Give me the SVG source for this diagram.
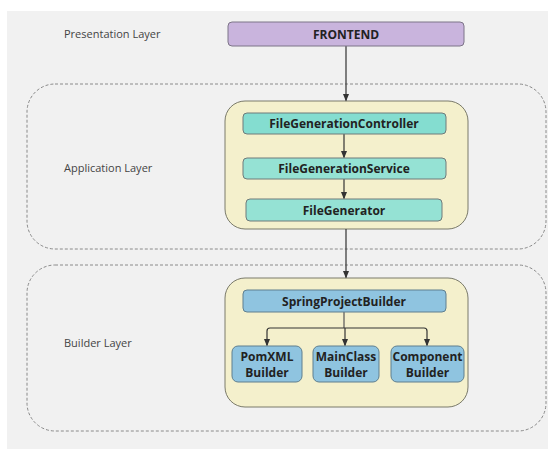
<svg xmlns="http://www.w3.org/2000/svg" width="548" height="450" viewBox="0 0 548 450">
  <defs>
    <marker id="arrow" viewBox="0 0 8 8" refX="7" refY="4" markerWidth="8" markerHeight="8" markerUnits="userSpaceOnUse" orient="auto">
      <path d="M0,0.8 L8,4 L0,7.2 z" fill="#333333"/>
    </marker>
    <style>
      .layer { fill: none; stroke: #8a8a8a; stroke-width: 1; stroke-dasharray: 3 2; }
      .layer-label { font-family: "Open Sans", "Noto Sans", sans-serif; font-size: 11px; fill: #444444; }
      .group { fill: #f4f0cc; stroke: #7a7a6a; stroke-width: 1; }
      .node { stroke: #6f7a7a; stroke-width: 1; }
      .frontend { fill: #c9b4dd; stroke: #7d7588; }
      .app { fill: #84ddd0; }
      .app2 { fill: #95e2d4; }
      .builder { fill: #8fc4e0; stroke: #5f7f8f; }
      .label { font-family: "Open Sans", "Noto Sans", sans-serif; font-weight: 700; font-size: 12px; fill: #222222; text-anchor: middle; }
      .label-sm { font-family: "Open Sans", "Noto Sans", sans-serif; font-weight: 700; font-size: 12px; fill: #222222; text-anchor: middle; }
      .edge { fill: none; stroke: #333333; stroke-width: 1.2; marker-end: url(#arrow); }
      .edge-plain { fill: none; stroke: #555555; stroke-width: 1.2; }
    </style>
  </defs>

  <!-- canvas -->
  <rect x="7" y="11" width="541" height="438" fill="#f1f1f1"/>

  <!-- layer bands -->
  <g id="layers">
    <rect class="layer" x="27" y="84" width="519" height="165" rx="28" ry="28"/>
    <rect class="layer" x="27" y="265" width="519" height="166" rx="28" ry="28"/>
    <text class="layer-label" x="64" y="38">Presentation Layer</text>
    <text class="layer-label" x="64" y="172">Application Layer</text>
    <text class="layer-label" x="64" y="347">Builder Layer</text>
  </g>

  <!-- group containers -->
  <g id="application-group">
    <rect class="group" x="225" y="101" width="243" height="128" rx="20" ry="20"/>
  </g>
  <g id="builder-group">
    <rect class="group" x="225" y="278" width="243" height="129" rx="20" ry="20"/>
  </g>

  <!-- connectors -->
  <g id="connectors">
    <line class="edge" x1="346" y1="46" x2="346" y2="100.5"/>
    <line class="edge" x1="344" y1="134" x2="344" y2="157.5"/>
    <line class="edge" x1="344" y1="179" x2="344" y2="198.5"/>
    <line class="edge" x1="346" y1="229" x2="346" y2="277.5"/>
    <path class="edge-plain" d="M344,312 V328"/>
    <path class="edge" d="M344,328 H270 Q267,328 267,331 V345.5"/>
    <line class="edge" x1="345" y1="328" x2="345" y2="345.5"/>
    <path class="edge" d="M344,328 H424 Q427,328 427,331 V345.5"/>
  </g>

  <!-- nodes -->
  <g id="frontend">
    <rect class="node frontend" x="228" y="22" width="236" height="24" rx="4" ry="4"/>
    <text class="label" x="346" y="38.5">FRONTEND</text>
  </g>
  <g id="file-generation-controller">
    <rect class="node app" x="243" y="113" width="203" height="21" rx="4" ry="4"/>
    <text class="label" x="344" y="128">FileGenerationController</text>
  </g>
  <g id="file-generation-service">
    <rect class="node app2" x="243" y="158" width="203" height="21" rx="4" ry="4"/>
    <text class="label" x="344" y="173">FileGenerationService</text>
  </g>
  <g id="file-generator">
    <rect class="node app2" x="246" y="199" width="196" height="22" rx="4" ry="4"/>
    <text class="label" x="344" y="214.5">FileGenerator</text>
  </g>
  <g id="spring-project-builder">
    <rect class="node builder" x="243" y="290" width="203" height="22" rx="4" ry="4"/>
    <text class="label" x="344" y="305.5">SpringProjectBuilder</text>
  </g>
  <g id="pomxml-builder">
    <rect class="node builder" x="232" y="346" width="70" height="36" rx="6" ry="6"/>
    <text class="label-sm" x="267" y="360.5">PomXML</text>
    <text class="label-sm" x="267" y="376.5">Builder</text>
  </g>
  <g id="mainclass-builder">
    <rect class="node builder" x="313" y="346" width="66" height="36" rx="6" ry="6"/>
    <text class="label-sm" x="346" y="360.5">MainClass</text>
    <text class="label-sm" x="346" y="376.5">Builder</text>
  </g>
  <g id="component-builder">
    <rect class="node builder" x="391" y="346" width="73" height="36" rx="6" ry="6"/>
    <text class="label-sm" x="427.5" y="360.5">Component</text>
    <text class="label-sm" x="427.5" y="376.5">Builder</text>
  </g>
</svg>
